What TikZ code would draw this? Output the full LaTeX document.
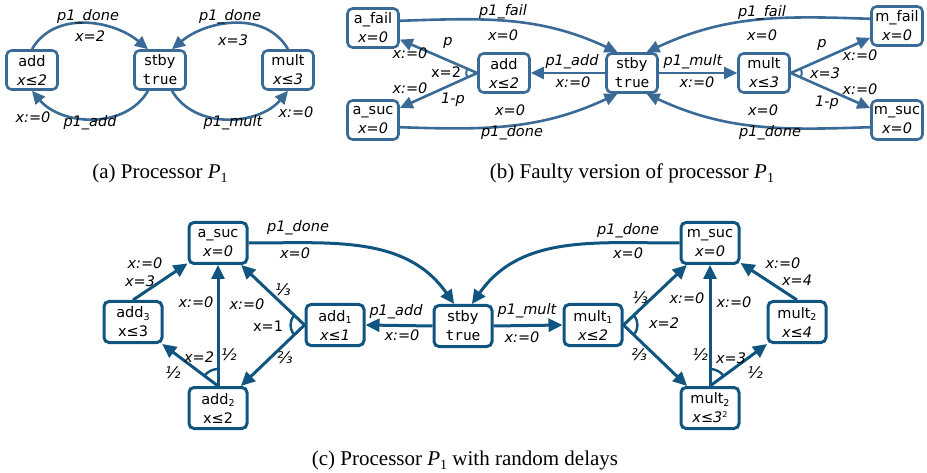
\documentclass[tikz,border=0pt]{standalone}
\usepackage{fontspec}
\setmainfont{DejaVu Sans}
\setmonofont{DejaVu Sans Mono}
\newfontfamily\capfont{Liberation Serif}
\usetikzlibrary{arrows.meta,angles}
\definecolor{colA}{RGB}{58,106,150}
\definecolor{colC}{RGB}{16,84,128}
\newcommand\sbs[1]{\raisebox{-2.5pt}{\fontsize{9.5}{10}\selectfont #1}}
\newcommand\capsub[1]{\raisebox{-4pt}{\fontsize{14}{14}\selectfont #1}}
\begin{document}
\begin{tikzpicture}[x=1pt,y=-1pt,
 boxA/.style={draw=colA, line width=2.6pt, rounded corners=5pt, fill=white, minimum width=51pt, minimum height=39pt, align=center, inner sep=1pt, font=\fontsize{14.5}{19}\selectfont},
 boxC/.style={boxA, draw=colC, line width=3pt, minimum width=58pt, minimum height=41pt},
 edgeA/.style={draw=colA, line width=2.6pt, -{Triangle[length=13pt,width=12pt]}},
 edgeC/.style={draw=colC, line width=3pt, -{Triangle[length=14pt,width=13pt]}},
 arcA/.style={draw=colA, line width=2pt, angle radius=11pt},
 arcC/.style={draw=colC, line width=2.4pt, angle radius=14pt},
 arcCb/.style={draw=colC, line width=2.4pt, angle radius=17pt},
 lab/.style={font=\fontsize{14.5}{16}\selectfont\itshape, inner sep=0pt},
 labu/.style={font=\fontsize{14.5}{16}\selectfont, inner sep=0pt},
 frc/.style={font=\fontsize{16}{17}\selectfont\itshape, inner sep=0pt},
 captxt/.style={font=\capfont\fontsize{21}{24}\selectfont, inner sep=0pt}]
\useasboundingbox (0,0) rectangle (927,473);

% ---------------- (a)
\node[boxA] (aadd) at (32,70) {add\\\textit{x≤2}};
\node[boxA] (astby) at (160,70) {stby\\\texttt{true}};
\node[boxA] (amult) at (288,70) {mult\\\textit{x≤3}};
\draw[edgeA] (aadd.north) to[out=60,in=140] (astby.120);
\draw[edgeA] (amult.north) to[out=120,in=40] (astby.60);
\draw[edgeA] (astby.240) to[out=-120,in=-50] (aadd.south);
\draw[edgeA] (astby.300) to[out=-60,in=-130] (amult.south);
\node[lab] (la1) at (88,17) {p1\_done};
\node[lab] (la2) at (90,36) {x=2};
\node[lab] (la3) at (230,17) {p1\_done};
\node[lab] (la4) at (233,40) {x=3};
\node[lab] (la5) at (33,117) {x:=0};
\node[lab] (la6) at (90,123) {p1\_add};
\node[lab] (la7) at (233,123) {p1\_mult};
\node[lab] (la8) at (296,112) {x:=0};
\node[captxt] (capa) at (160,173) {(a) Processor \textit{P}\capsub{1}};

% ---------------- (b)
\node[boxA] (bafail) at (373,28) {a\_fail\\\textit{x=0}};
\node[boxA] (basuc) at (373,120) {a\_suc\\\textit{x=0}};
\node[boxA] (badd) at (504,73) {add\\\textit{x≤2}};
\node[boxA] (bstby) at (632,73) {stby\\\texttt{true}};
\node[boxA] (bmult) at (764,73) {mult\\\textit{x≤3}};
\node[boxA] (bmfail) at (897,26) {m\_fail\\\textit{x=0}};
\node[boxA] (bmsuc) at (897,120) {m\_suc\\\textit{x=0}};
\draw[edgeA] (bstby.west) -- (badd.east);
\draw[edgeA] (bstby.east) -- (bmult.west);
\coordinate (bo1) at (badd.west);
\draw[edgeA] (bo1) -- (bafail);
\draw[edgeA] (bo1) -- (basuc);
\pic[arcA] {angle = bafail--bo1--basuc};
\coordinate (bo2) at (bmult.east);
\draw[edgeA] (bo2) -- (bmfail);
\draw[edgeA] (bo2) -- (bmsuc);
\pic[arcA] {angle = bmsuc--bo2--bmfail};
\draw[edgeA] (bafail.15) to[out=2,in=155] (bstby.125);
\draw[edgeA] (basuc.-15) to[out=-2,in=-155] (bstby.235);
\draw[edgeA] (bmfail.165) to[out=178,in=25] (bstby.55);
\draw[edgeA] (bmsuc.195) to[out=182,in=-25] (bstby.305);
\node[lab] (lb1) at (503,12) {p1\_fail};
\node[lab] (lb2) at (503,35) {x=0};
\node[lab] (lb3) at (448,43) {p};
\node[lab] (lb4) at (410,53) {x:=0};
\node[labu] (lb5) at (446,72) {x=2};
\node[lab] (lb6) at (410,88) {x:=0};
\node[lab] (lb7) at (453,100) {1-p};
\node[lab] (lb8) at (572,62) {p1\_add};
\node[lab] (lb9) at (573,82) {x:=0};
\node[lab] (lb10) at (510,110) {x=0};
\node[lab] (lb11) at (512,133) {p1\_done};
\node[lab] (lb12) at (762,13) {p1\_fail};
\node[lab] (lb13) at (762,35) {x=0};
\node[lab] (lb14) at (822,45) {p};
\node[lab] (lb15) at (860,55) {x:=0};
\node[lab] (lb16) at (693,62) {p1\_mult};
\node[lab] (lb17) at (697,82) {x:=0};
\node[lab] (lb18) at (825,73) {x=3};
\node[lab] (lb19) at (860,89) {x:=0};
\node[lab] (lb20) at (827,103) {1-p};
\node[lab] (lb21) at (763,110) {x=0};
\node[lab] (lb22) at (770,133) {p1\_done};
\node[captxt] (capb) at (632,173) {(b) Faulty version of processor \textit{P}\capsub{1}};

% ---------------- (c)
\node[boxC] (casuc) at (218,243) {a\_suc\\\textit{x=0}};
\node[boxC] (cadd3) at (133,322) {add\sbs{3}\\x≤3};
\node[boxC] (cadd1) at (335,325) {add\sbs{1}\\\textit{x≤1}};
\node[boxC] (cadd2) at (218,408) {add\sbs{2}\\x≤2};
\node[boxC] (cstby) at (463,326) {stby\\\texttt{true}};
\node[boxC] (cmult1) at (593,325) {mult\sbs{1}\\\textit{x≤2}};
\node[boxC] (cmsuc) at (710,243) {m\_suc\\\textit{x=0}};
\node[boxC] (cmultr) at (797,322) {mult\sbs{2}\\\textit{x≤4}};
\node[boxC] (cmultb) at (710,408) {mult\sbs{2}\\\textit{x≤3}\raisebox{5pt}{\fontsize{8}{9}\selectfont 2}};
\draw[edgeC] (cstby.west) -- (cadd1.east);
\draw[edgeC] (cstby.east) -- (cmult1.west);
\coordinate (co1) at (cadd1.west);
\draw[edgeC] (co1) -- (casuc);
\draw[edgeC] (co1) -- (cadd2);
\pic[arcC] {angle = casuc--co1--cadd2};
\coordinate (co2) at (cadd2.north);
\draw[edgeC] (co2) -- (casuc);
\draw[edgeC] (co2) -- (cadd3);
\pic[arcCb] {angle = casuc--co2--cadd3};
\draw[edgeC] (cadd3.north) -- (casuc);
\coordinate (co3) at (cmult1.east);
\draw[edgeC] (co3) -- (cmsuc);
\draw[edgeC] (co3) -- (cmultb);
\pic[arcC] {angle = cmultb--co3--cmsuc};
\coordinate (co4) at (cmultb.north);
\draw[edgeC] (co4) -- (cmsuc);
\draw[edgeC] (co4) -- (cmultr);
\pic[arcCb] {angle = cmultr--co4--cmsuc};
\draw[edgeC] (cmultr.north) -- (cmsuc);
\draw[edgeC] (casuc.east) to[out=0,in=125] (cstby.112);
\draw[edgeC] (cmsuc.west) to[out=180,in=55] (cstby.68);
\node[lab] (lc1) at (298,228) {p1\_done};
\node[lab] (lc2) at (295,253) {x=0};
\node[lab] (lc3) at (145,263) {x:=0};
\node[lab] (lc4) at (140,281) {x=3};
\node[lab] (lc5) at (196,302) {x:=0};
\node[lab] (lc6) at (247,304) {x:=0};
\node[frc] (lc7) at (283,290) {⅓};
\node[labu] (lc8) at (268,326) {x=1};
\node[frc] (lc9) at (285,358) {⅔};
\node[lab] (lc10) at (199,357) {x=2};
\node[frc] (lc11) at (229,355) {½};
\node[frc] (lc12) at (173,373) {½};
\node[lab] (lc13) at (396,312) {p1\_add};
\node[lab] (lc14) at (402,335) {x:=0};
\node[lab] (lc15) at (527,311) {p1\_mult};
\node[lab] (lc16) at (522,337) {x:=0};
\node[lab] (lc17) at (628,231) {p1\_done};
\node[lab] (lc18) at (628,253) {x=0};
\node[frc] (lc19) at (640,298) {⅓};
\node[lab] (lc20) at (687,298) {x:=0};
\node[lab] (lc21) at (734,302) {x:=0};
\node[lab] (lc22) at (664,323) {x=2};
\node[frc] (lc23) at (639,355) {⅔};
\node[frc] (lc24) at (700,355) {½};
\node[lab] (lc25) at (731,358) {x=3};
\node[frc] (lc26) at (755,373) {½};
\node[lab] (lc27) at (783,263) {x:=0};
\node[lab] (lc28) at (797,280) {x=4};
\node[captxt] (capc) at (465,460) {(c) Processor \textit{P}\capsub{1} with random delays};
\end{tikzpicture}
\end{document}
